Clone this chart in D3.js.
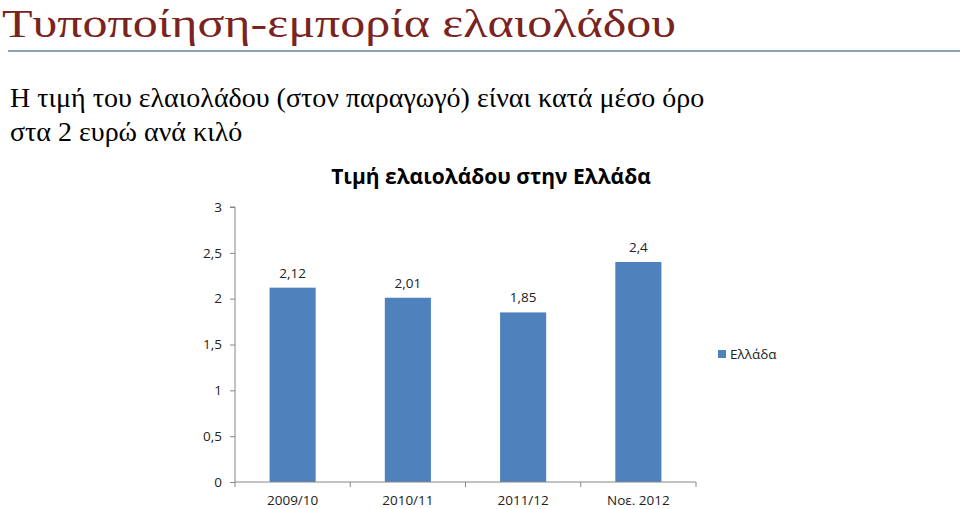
<!DOCTYPE html>
<html><head><meta charset="utf-8">
<script src="https://cdn.jsdelivr.net/npm/d3@7"></script>
<style>body{margin:0;background:#fff;} svg{display:block;}</style>
</head><body>
<svg id="c" width="960" height="509"></svg>
<script>
const categories = ["2009/10", "2010/11", "2011/12", "Νοε. 2012"];
const values = [2.12, 2.01, 1.85, 2.4];
const valueLabels = ["2,12", "2,01", "1,85", "2,4"];
const yTicks = [0, 0.5, 1, 1.5, 2, 2.5, 3];
const yTickLabels = ["0", "0,5", "1", "1,5", "2", "2,5", "3"];
const seriesName = "Ελλάδα";
const pageTitle = "Τυποποίηση-εμπορία ελαιολάδου";
const subtitleLines = ["Η τιμή του ελαιολάδου (στον παραγωγό) είναι κατά μέσο όρο", "στα 2 ευρώ ανά κιλό"];
const chartTitle = "Τιμή ελαιολάδου στην Ελλάδα";

const svg = d3.select("#c");
const serif = "'Liberation Serif','DejaVu Serif',serif";
const sans = "'Open Sans','Liberation Sans',sans-serif";

svg.append("text").attr("x", 2).attr("y", 37).attr("font-family", serif)
  .attr("font-size", 41).attr("fill", "#7a2422")
  .attr("textLength", 674).attr("lengthAdjust", "spacingAndGlyphs").text(pageTitle);
svg.append("rect").attr("x", 8).attr("y", 50).attr("width", 952).attr("height", 2).attr("fill", "#8aa3b8");

subtitleLines.forEach((t, i) => {
  svg.append("text").attr("x", 10).attr("y", 107 + i * 34).attr("font-family", serif)
    .attr("font-size", 28).attr("fill", "#000").text(t);
});

svg.append("text").attr("x", 491).attr("y", 184).attr("text-anchor", "middle")
  .attr("font-family", sans).attr("font-weight", "bold").attr("font-size", 21)
  .attr("fill", "#000").text(chartTitle);

const x = d3.scaleBand().domain(categories).range([235, 696]).paddingInner(0.6).paddingOuter(0.3);
const y = d3.scaleLinear().domain([0, 3]).range([482, 207]);

const axisColor = "#868686";
const fs = 13.5;
const yAxis = svg.append("g").attr("transform", "translate(235,0)")
  .call(d3.axisLeft(y).tickValues(yTicks).tickFormat((d, i) => yTickLabels[i]).tickSize(5).tickPadding(8));
yAxis.select(".domain").attr("stroke", axisColor).attr("d", `M-5,${y(3)}H0V${y(0)}`);
yAxis.selectAll(".tick line").attr("stroke", axisColor);
yAxis.selectAll(".tick text").attr("font-family", sans).attr("font-size", fs).attr("fill", "#222");

const bars = svg.append("g");
bars.selectAll("rect").data(values).join("rect")
  .attr("x", (d, i) => x(categories[i])).attr("width", x.bandwidth())
  .attr("y", d => y(d)).attr("height", d => y(0) - y(d)).attr("fill", "#4f81bd");
bars.selectAll("text").data(values).join("text")
  .attr("x", (d, i) => x(categories[i]) + x.bandwidth() / 2).attr("y", d => y(d) - 10)
  .attr("text-anchor", "middle").attr("font-family", sans).attr("font-size", fs).attr("fill", "#222")
  .text((d, i) => valueLabels[i]);

const xg = svg.append("g").attr("transform", `translate(0,${y(0)})`);
xg.append("line").attr("x1", 235).attr("x2", 696).attr("stroke", axisColor);
const step = x.step();
const edges = categories.map(c => x(c) + x.bandwidth() / 2 - step / 2).concat([x(categories[categories.length-1]) + x.bandwidth()/2 + step/2]);
xg.selectAll(".xt").data(edges).join("line").attr("class", "xt")
  .attr("x1", d => d).attr("x2", d => d).attr("y1", 0).attr("y2", 5).attr("stroke", axisColor);
xg.selectAll(".xl").data(categories).join("text").attr("class", "xl")
  .attr("x", d => x(d) + x.bandwidth() / 2).attr("y", 23).attr("text-anchor", "middle")
  .attr("font-family", sans).attr("font-size", fs).attr("fill", "#222").text(d => d);

svg.append("rect").attr("x", 718).attr("y", 350).attr("width", 8).attr("height", 8).attr("fill", "#4f81bd");
svg.append("text").attr("x", 730).attr("y", 359).attr("font-family", sans).attr("font-size", fs)
  .attr("fill", "#222").text(seriesName);
</script>
</body></html>
